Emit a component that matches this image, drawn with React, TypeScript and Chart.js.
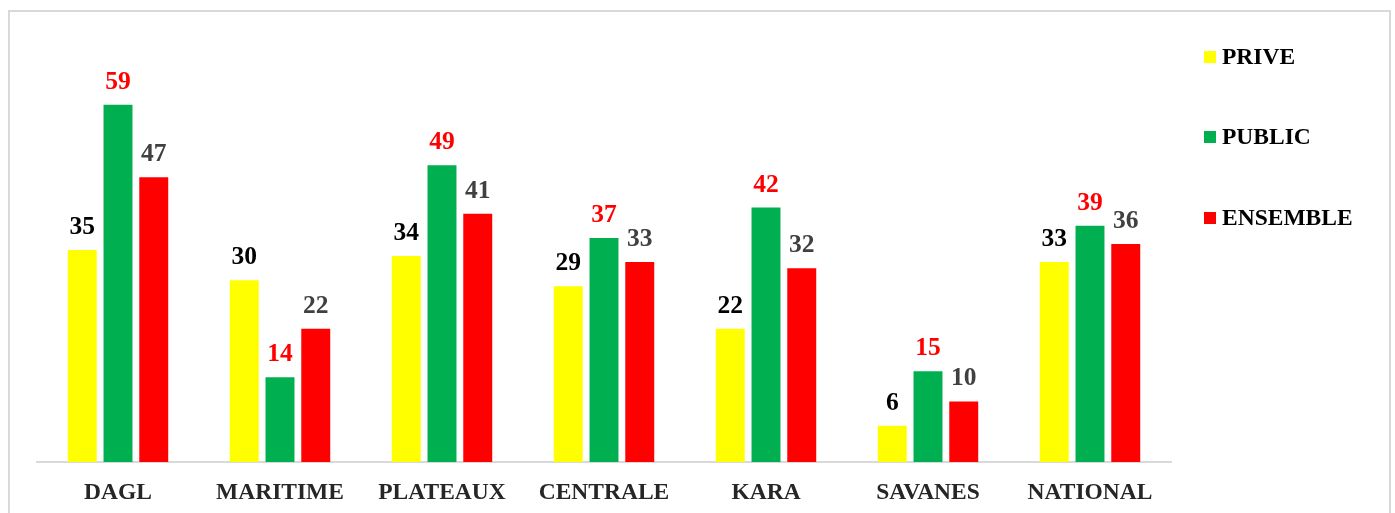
import React, { useEffect, useRef } from "react";
import { Chart, registerables } from "chart.js";

Chart.register(...registerables);

const categories = ["DAGL", "MARITIME", "PLATEAUX", "CENTRALE", "KARA", "SAVANES", "NATIONAL"];
const prive = [35, 30, 34, 29, 22, 6, 33];
const publicVals = [59, 14, 49, 37, 42, 15, 39];
const ensemble = [47, 22, 41, 33, 32, 10, 36];
const seriesNames = ["PRIVE", "PUBLIC", "ENSEMBLE"];
const seriesColors = ["#FFFF00", "#00B050", "#FF0000"];
const labelColors = ["#000000", "#FF0000", "#404040"];

const FONT = "'Liberation Serif', 'Times New Roman', serif";

const framePlugin = {
  id: "frame",
  beforeDraw(chart: any) {
    const ctx = chart.ctx;
    ctx.save();
    ctx.strokeStyle = "#d9d9d9";
    ctx.lineWidth = 2;
    ctx.strokeRect(9, 11, 1381, 520);
    ctx.restore();
  },
};

const valueLabelPlugin = {
  id: "valueLabels",
  afterDatasetsDraw(chart: any) {
    const ctx = chart.ctx;
    ctx.save();
    ctx.font = `bold 25.5px ${FONT}`;
    ctx.textAlign = "center";
    ctx.textBaseline = "alphabetic";
    chart.data.datasets.forEach((ds: any, i: number) => {
      const meta = chart.getDatasetMeta(i);
      ctx.fillStyle = labelColors[i];
      meta.data.forEach((el: any, j: number) => {
        ctx.fillText(String(ds.data[j]), el.x, el.y - 16);
      });
    });
    ctx.restore();
  },
};

const legendPlugin = {
  id: "customLegend",
  afterDraw(chart: any) {
    const ctx = chart.ctx;
    ctx.save();
    ctx.font = `bold 23.5px ${FONT}`;
    ctx.textAlign = "left";
    ctx.textBaseline = "middle";
    const ys = [57, 137, 218];
    chart.data.datasets.forEach((ds: any, i: number) => {
      ctx.fillStyle = ds.backgroundColor;
      ctx.fillRect(1204, ys[i] - 6, 12, 12);
      ctx.fillStyle = "#000000";
      ctx.fillText(ds.label, 1222, ys[i] + 1);
    });
    ctx.restore();
  },
};

export default function App() {
  const ref = useRef<HTMLCanvasElement>(null);
  useEffect(() => {
    if (!ref.current) return;
    const values = [prive, publicVals, ensemble];
    const chart = new Chart(ref.current, {
      type: "bar",
      data: {
        labels: categories,
        datasets: values.map((v, i) => ({
          label: seriesNames[i],
          data: v,
          backgroundColor: seriesColors[i],
          categoryPercentage: 0.662,
          barPercentage: 0.81,
        })),
      },
      options: {
        animation: false,
        responsive: false,
        layout: { padding: { top: 38, left: 37, right: 224, bottom: 0 } },
        plugins: { legend: { display: false }, tooltip: { enabled: false } },
        scales: {
          x: {
            grid: { display: false },
            border: { display: true, color: "#d9d9d9", width: 2 },
            ticks: {
              color: "#262626",
              font: { family: FONT, size: 23.5, weight: "bold" },
              padding: 9,
              maxRotation: 0,
              autoSkip: false,
            },
            afterFit: (s: any) => {
              s.height = 51;
            },
          },
          y: { display: false, min: 0, max: 70 },
        },
      },
      plugins: [framePlugin, valueLabelPlugin, legendPlugin],
    });
    return () => chart.destroy();
  }, []);
  return (
    <div style={{ position: "fixed", left: 0, top: 0, width: 1395, height: 513, background: "#fff" }}>
      <canvas ref={ref} width={1395} height={513} />
    </div>
  );
}
